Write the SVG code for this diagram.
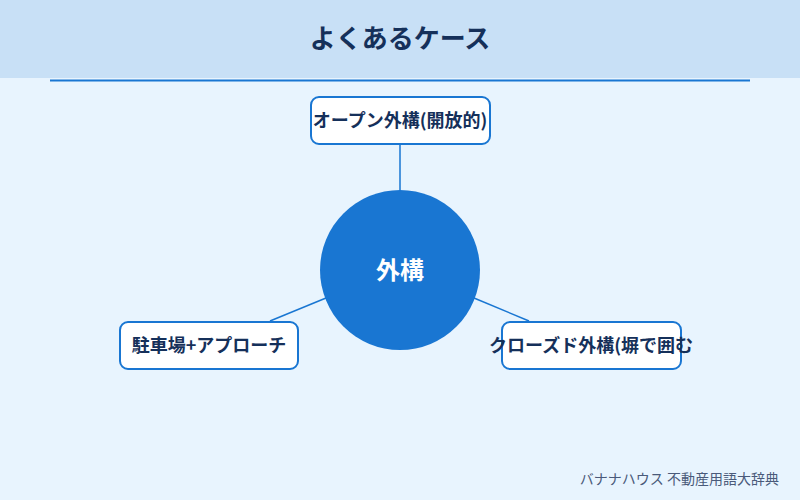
<svg xmlns="http://www.w3.org/2000/svg" width="800" height="500" viewBox="0 0 800 500">
<style>
.bg{fill:#e8f4fe}
.node rect{fill:#ffffff;stroke:#1976d2;stroke-width:2}
.lbl{font-family:"Noto Sans CJK JP","Noto Sans",sans-serif;font-size:18px;font-weight:bold;fill:#15305a;text-anchor:middle}
.conn line{stroke:#1976d2;stroke-width:1.5}
</style>
<rect class="bg" x="0" y="0" width="800" height="500"/>
<rect x="0" y="0" width="800" height="78" fill="#c8e0f6"/>
<text x="400" y="48" font-family="'Noto Sans CJK JP','Noto Sans',sans-serif" font-size="26" font-weight="bold" fill="#15305a" text-anchor="middle">よくあるケース</text>
<line x1="50" y1="80.5" x2="750" y2="80.5" stroke="#1976d2" stroke-width="2"/>
<g class="conn" id="connectors">
<line x1="400" y1="145" x2="400" y2="190"/>
<line x1="326" y1="298" x2="270" y2="321"/>
<line x1="474" y1="298" x2="529" y2="321"/>
</g>
<g id="center">
<circle cx="400" cy="270" r="80" fill="#1976d2"/>
<text x="400" y="279" font-family="'Noto Sans CJK JP','Noto Sans',sans-serif" font-size="24" font-weight="bold" fill="#ffffff" text-anchor="middle">外構</text>
</g>
<g id="node-open" class="node">
<rect x="311" y="97" width="179" height="47" rx="8"/>
<text class="lbl" x="400" y="127">オープン外構(開放的)</text>
</g>
<g id="node-parking" class="node">
<rect x="120" y="322" width="178" height="47" rx="8"/>
<text class="lbl" x="209" y="352">駐車場+アプローチ</text>
</g>
<g id="node-closed" class="node">
<rect x="502" y="322" width="179" height="47" rx="8"/>
<text class="lbl" x="591" y="352">クローズド外構(塀で囲む</text>
</g>
<text x="779" y="484" font-family="'Noto Sans CJK JP','Noto Sans',sans-serif" font-size="14" fill="#4a5a7a" text-anchor="end">バナナハウス 不動産用語大辞典</text>
</svg>
